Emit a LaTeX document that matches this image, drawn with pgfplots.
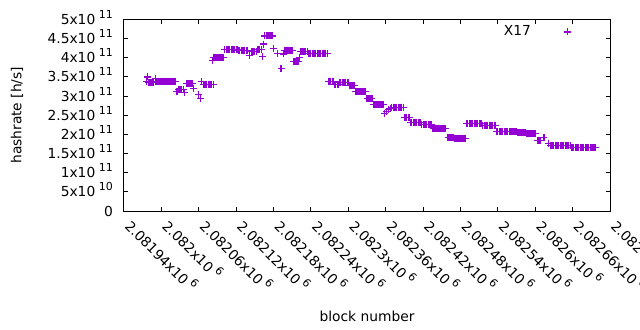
\documentclass[border=0pt]{standalone}
\usepackage{pgfplots}
\pgfplotsset{compat=1.18}
\usepackage{fontspec}
\setmainfont{DejaVu Sans}
\definecolor{gpviolet}{HTML}{9400D3}
\newcommand\sx[1]{\hspace{3.5bp}\smash{\raisebox{6bp}{\fontsize{11bp}{11bp}\selectfont #1}}}
\begin{document}
\fontsize{13.8bp}{16bp}\selectfont
\begin{tikzpicture}
\path[use as bounding box] (-124bp,-119bp) rectangle (516bp,211bp);
\begin{axis}[
  scale only axis, width=486bp, height=191.5bp,
  xmin=0, xmax=780, ymin=0, ymax=5e11,
  axis line style={line width=1bp, black},
  every tick/.style={line width=1bp, black},
  major tick length=4.5bp,
  tick align=inside,
  xtick={0,60,...,780},
  xticklabels={2.08194x10\sx{6}, 2.082x10\sx{6}, 2.08206x10\sx{6}, 2.08212x10\sx{6}, 2.08218x10\sx{6}, 2.08224x10\sx{6}, 2.0823x10\sx{6}, 2.08236x10\sx{6}, 2.08242x10\sx{6}, 2.08248x10\sx{6}, 2.08254x10\sx{6}, 2.0826x10\sx{6}, 2.08266x10\sx{6}, 2.08272x10\sx{6}},
  xticklabel style={anchor=west, inner sep=0pt, xshift=3.5bp, yshift=-12.5bp, rotate=-45},
  ytick={0,5e10,1e11,1.5e11,2e11,2.5e11,3e11,3.5e11,4e11,4.5e11,5e11},
  yticklabels={0, 5x10\sx{10}, 1x10\sx{11}, 1.5x10\sx{11}, 2x10\sx{11}, 2.5x10\sx{11}, 3x10\sx{11}, 3.5x10\sx{11}, 4x10\sx{11}, 4.5x10\sx{11}, 5x10\sx{11}},
  yticklabel style={anchor=east, inner sep=0pt, xshift=-11bp},
  scaled y ticks=false, scaled x ticks=false,
  xlabel={block number}, ylabel={hashrate [h/s]},
  every axis x label/.style={at={(axis description cs:0.5,0)}, anchor=center, yshift=-105bp},
  every axis y label/.style={at={(axis description cs:-0.2202,0.5)}, anchor=center, rotate=90},
  legend style={draw=none, fill=none, legend plot pos=right, at={(0.9198,0.935)}, anchor=east, inner sep=0pt},
  legend image code/.code={\draw[#1] plot[only marks] coordinates {(0cm,0cm)};},
]
\addplot[only marks, mark=+, mark size=3.5bp, line width=1bp, color=gpviolet, mark options={line width=1.1bp}] coordinates {
(36,3.37e11) (38,3.50e11)
(39,3.35e11) (41,3.35e11) (43,3.35e11) (45,3.35e11) (47,3.35e11)
(50,3.45e11)
(51,3.39e11) (53,3.39e11) (55,3.39e11) (57,3.39e11) (59,3.39e11) (61,3.39e11) (63,3.39e11) (65,3.39e11) (67,3.39e11) (69,3.39e11) (71,3.39e11) (73,3.39e11) (75,3.39e11) (77,3.39e11) (79,3.39e11) (81,3.39e11) (83,3.39e11)
(85,3.13e11) (87,3.17e11) (89,3.17e11) (91,3.17e11) (93,3.17e11) (95,3.17e11) (97,3.09e11)
(100,3.33e11) (102,3.33e11) (104,3.33e11) (106,3.33e11) (108,3.33e11) (110,3.33e11)
(112,3.20e11) (119,3.04e11) (123,2.94e11) (124,3.39e11)
(127,3.31e11) (129,3.31e11) (131,3.31e11) (133,3.31e11) (135,3.31e11) (137,3.31e11) (139,3.31e11) (141,3.31e11) (143,3.31e11)
(142,3.93e11)
(144,4.01e11) (146,4.01e11) (148,4.01e11) (150,4.01e11) (152,4.01e11) (154,4.01e11) (156,4.01e11) (158,4.01e11) (160,4.01e11)
(162,4.22e11) (164,4.22e11) (166,4.22e11) (168,4.22e11) (170,4.22e11) (172,4.22e11) (174,4.22e11) (176,4.22e11) (178,4.22e11) (180,4.22e11) (182,4.22e11)
(184,4.19e11) (186,4.19e11) (188,4.19e11) (190,4.19e11) (192,4.19e11) (194,4.19e11) (196,4.19e11) (198,4.19e11)
(201,4.06e11)
(204,4.16e11) (206,4.16e11) (208,4.16e11) (210,4.16e11) (212,4.16e11) (214,4.21e11) (216,4.21e11) (218,4.21e11) (220,4.21e11)
(222,4.04e11) (224,4.36e11)
(226,4.57e11) (228,4.57e11) (230,4.57e11) (232,4.57e11) (234,4.57e11) (236,4.57e11) (238,4.57e11)
(240,4.25e11) (247,4.12e11) (252,3.73e11) (256,4.10e11)
(258,4.20e11) (260,4.20e11) (262,4.20e11) (264,4.20e11) (266,4.20e11) (268,4.20e11) (270,4.20e11)
(272,3.90e11) (274,3.90e11) (276,3.90e11) (278,3.90e11) (280,3.90e11)
(282,4.00e11)
(284,4.17e11) (286,4.17e11) (288,4.17e11) (290,4.17e11) (292,4.17e11) (294,4.17e11)
(296,4.12e11) (298,4.12e11) (300,4.12e11) (302,4.12e11) (304,4.12e11) (306,4.12e11) (308,4.12e11) (310,4.12e11) (312,4.12e11) (314,4.12e11) (316,4.12e11) (318,4.12e11) (320,4.12e11) (322,4.12e11) (324,4.12e11) (326,4.12e11)
(328,3.39e11) (330,3.39e11) (332,3.39e11) (334,3.39e11) (336,3.39e11)
(338,3.31e11) (340,3.31e11) (342,3.31e11) (344,3.31e11)
(346,3.36e11) (348,3.36e11) (350,3.36e11) (352,3.36e11) (354,3.36e11) (356,3.36e11) (358,3.36e11) (360,3.36e11)
(362,3.27e11) (364,3.27e11) (366,3.27e11) (368,3.27e11) (370,3.27e11)
(372,3.13e11) (374,3.13e11) (376,3.13e11) (378,3.13e11) (380,3.13e11) (382,3.13e11) (384,3.13e11) (386,3.13e11) (388,3.13e11)
(390,2.94e11) (392,2.94e11) (394,2.94e11) (396,2.94e11) (398,2.94e11)
(400,2.77e11) (402,2.77e11) (404,2.77e11) (406,2.77e11) (408,2.77e11) (410,2.77e11) (412,2.77e11) (414,2.77e11) (416,2.77e11)
(418,2.55e11) (421,2.60e11) (424,2.64e11) (427,2.67e11)
(430,2.71e11) (432,2.71e11) (434,2.71e11) (436,2.71e11) (438,2.71e11) (440,2.71e11) (442,2.71e11) (444,2.71e11) (446,2.71e11) (448,2.71e11)
(450,2.43e11) (452,2.43e11) (454,2.43e11) (456,2.43e11) (458,2.43e11)
(460,2.32e11) (462,2.32e11) (464,2.32e11) (466,2.32e11) (468,2.32e11) (470,2.32e11) (472,2.32e11) (474,2.32e11) (476,2.32e11)
(478,2.26e11) (480,2.26e11) (482,2.26e11) (484,2.26e11) (486,2.26e11) (488,2.26e11) (490,2.26e11) (492,2.26e11) (494,2.26e11)
(496,2.16e11) (498,2.16e11) (500,2.16e11) (502,2.16e11) (504,2.16e11) (506,2.16e11) (508,2.16e11) (510,2.16e11) (512,2.16e11) (514,2.16e11) (516,2.16e11)
(520,1.92e11) (522,1.92e11) (524,1.92e11) (526,1.92e11) (528,1.92e11)
(530,1.90e11) (532,1.90e11) (534,1.90e11) (536,1.90e11) (538,1.90e11) (540,1.90e11) (542,1.90e11) (544,1.90e11) (546,1.90e11) (548,1.90e11)
(550,2.29e11) (552,2.29e11) (554,2.29e11) (556,2.29e11) (558,2.29e11) (560,2.29e11) (562,2.29e11) (564,2.29e11) (566,2.29e11) (568,2.29e11) (570,2.29e11) (572,2.29e11) (574,2.29e11)
(576,2.24e11) (578,2.24e11) (580,2.24e11) (582,2.24e11) (584,2.24e11) (586,2.24e11) (588,2.24e11) (590,2.24e11) (592,2.24e11) (594,2.24e11) (596,2.24e11)
(598,2.07e11) (600,2.07e11) (602,2.07e11) (604,2.07e11) (606,2.07e11) (608,2.07e11) (610,2.07e11) (612,2.07e11) (614,2.07e11) (616,2.07e11) (618,2.07e11) (620,2.07e11) (622,2.07e11) (624,2.07e11) (626,2.07e11) (628,2.07e11) (630,2.07e11)
(632,2.05e11) (634,2.05e11) (636,2.05e11) (638,2.05e11) (640,2.05e11) (642,2.05e11) (644,2.05e11)
(646,2.03e11) (648,2.03e11) (650,2.03e11) (652,2.03e11) (654,2.03e11) (656,2.03e11) (658,2.03e11) (660,2.03e11)
(663,1.85e11) (665,1.85e11) (667,1.85e11) (669,1.85e11) (674,1.91e11)
(681,1.77e11)
(684,1.72e11) (686,1.72e11) (688,1.72e11) (690,1.72e11) (692,1.72e11)
(694,1.70e11) (696,1.70e11) (698,1.70e11) (700,1.70e11) (702,1.70e11) (704,1.70e11) (706,1.70e11) (708,1.70e11) (710,1.70e11) (712,1.70e11) (714,1.70e11) (716,1.70e11)
(718,1.66e11) (720,1.66e11) (722,1.66e11) (724,1.66e11) (726,1.66e11) (728,1.66e11) (730,1.66e11) (732,1.66e11) (734,1.66e11) (736,1.66e11) (738,1.66e11) (740,1.66e11) (742,1.66e11) (744,1.66e11) (746,1.66e11) (748,1.66e11) (750,1.66e11) (752,1.66e11) (754,1.66e11) (756,1.66e11)
};
\addlegendentry{\makebox[58bp][l]{X17}}
\end{axis}
\end{tikzpicture}
\end{document}
